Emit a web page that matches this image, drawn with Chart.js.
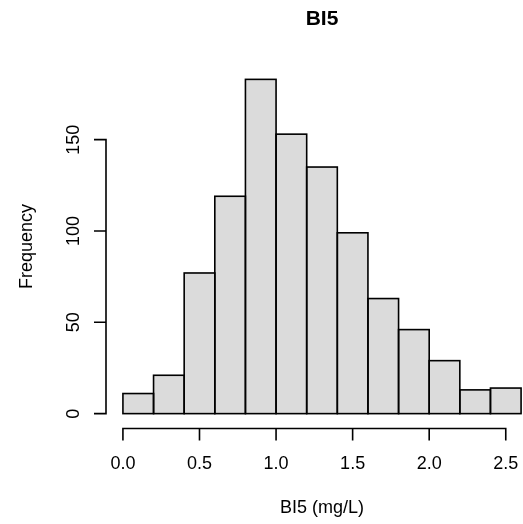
<!DOCTYPE html>
<html>
<head>
<meta charset="utf-8">
<script src="https://cdn.jsdelivr.net/npm/chart.js@4.4.1/dist/chart.umd.min.js"></script>
<style>
  html, body { margin: 0; padding: 0; background: #ffffff; overflow: hidden; }
  #wrap { width: 523px; height: 524px; overflow: hidden; position: relative; }
  #c { position: absolute; left: 0; top: 0; }
</style>
</head>
<body>
<div id="wrap"><canvas id="c" width="560" height="524"></canvas></div>
<script>
// ---- data ----
const breaks = [0.0, 0.2, 0.4, 0.6, 0.8, 1.0, 1.2, 1.4, 1.6, 1.8, 2.0, 2.2, 2.4, 2.6];
const counts = [11, 21, 77, 119, 183, 153, 135, 99, 63, 46, 29, 13, 14];
const xTicks = [0.0, 0.5, 1.0, 1.5, 2.0, 2.5];
const xTickLabels = ["0.0", "0.5", "1.0", "1.5", "2.0", "2.5"];
const yTicks = [0, 50, 100, 150];
const yTickLabels = ["0", "50", "100", "150"];
const titleText = "BI5";
const xLabel = "BI5 (mg/L)";
const yLabel = "Frequency";

const points = counts.map((c, i) => ({ x: (breaks[i] + breaks[i + 1]) / 2, y: c }));
const xMinB = breaks[0], xMaxB = breaks[breaks.length - 1];
const xPad = (xMaxB - xMinB) * 0.04;
const yMaxC = Math.max(...counts);
const yPad = yMaxC * 0.04;
const FONT = '"Liberation Sans", Arial, Helvetica, sans-serif';
const LW = 1.6;

const rAxes = {
  id: 'rAxes',
  afterDatasetsDraw(chart) {
    // outline bars like R's rect(), lines centred on bar edges
    const ctx = chart.ctx;
    const meta = chart.getDatasetMeta(0);
    ctx.save();
    ctx.strokeStyle = '#000';
    ctx.lineWidth = LW;
    ctx.lineJoin = 'miter';
    meta.data.forEach(bar => {
      const p = bar.getProps(['x', 'y', 'base', 'width'], true);
      const l = p.x - p.width / 2, r = p.x + p.width / 2;
      ctx.strokeRect(l, p.y, r - l, p.base - p.y);
    });
    ctx.restore();
  },
  afterDraw(chart) {
    const ctx = chart.ctx;
    const xs = chart.scales.x, ys = chart.scales.y;
    const area = chart.chartArea;
    ctx.save();
    ctx.strokeStyle = '#000';
    ctx.fillStyle = '#000';
    ctx.lineWidth = LW;
    ctx.lineCap = 'butt';
    // x axis
    const ax = area.bottom + 1.5;
    ctx.beginPath();
    ctx.moveTo(xs.getPixelForValue(xTicks[0]) - LW / 2, ax);
    ctx.lineTo(xs.getPixelForValue(xTicks[xTicks.length - 1]) + LW / 2, ax);
    xTicks.forEach(t => {
      const px = xs.getPixelForValue(t);
      ctx.moveTo(px, ax);
      ctx.lineTo(px, ax + 12);
    });
    ctx.stroke();
    ctx.font = '18px ' + FONT;
    ctx.textAlign = 'center';
    ctx.textBaseline = 'middle';
    xTicks.forEach((t, i) => {
      ctx.fillText(xTickLabels[i], xs.getPixelForValue(t), 464);
    });
    // y axis
    const ay = area.left - 1;
    ctx.beginPath();
    ctx.moveTo(ay, ys.getPixelForValue(yTicks[0]) + LW / 2);
    ctx.lineTo(ay, ys.getPixelForValue(yTicks[yTicks.length - 1]) - LW / 2);
    yTicks.forEach(t => {
      const py = ys.getPixelForValue(t);
      ctx.moveTo(ay, py);
      ctx.lineTo(ay - 12, py);
    });
    ctx.stroke();
    yTicks.forEach((t, i) => {
      ctx.save();
      ctx.translate(74, ys.getPixelForValue(t));
      ctx.rotate(-Math.PI / 2);
      ctx.fillText(yTickLabels[i], 0, 0);
      ctx.restore();
    });
    // axis titles
    const cx = (area.left + area.right) / 2;
    const cy = (area.top + area.bottom) / 2;
    ctx.fillText(xLabel, cx, 508);
    ctx.save();
    ctx.translate(27, cy);
    ctx.rotate(-Math.PI / 2);
    ctx.fillText(yLabel, 0, 0);
    ctx.restore();
    // main title
    ctx.font = 'bold 21px ' + FONT;
    ctx.fillText(titleText, cx, 19);
    ctx.restore();
  }
};

new Chart(document.getElementById('c'), {
  type: 'bar',
  data: {
    datasets: [{
      data: points,
      backgroundColor: '#DBDBDB',
      borderWidth: 0,
      barPercentage: 1.0,
      categoryPercentage: 1.0
    }]
  },
  options: {
    responsive: false,
    animation: false,
    devicePixelRatio: 1,
    layout: { padding: { left: 107, right: 23, top: 66, bottom: 97 } },
    plugins: { legend: { display: false }, tooltip: { enabled: false }, title: { display: false } },
    scales: {
      x: { type: 'linear', display: false, offset: false, min: xMinB - xPad, max: xMaxB + xPad },
      y: { type: 'linear', display: false, min: -yPad, max: yMaxC + yPad }
    }
  },
  plugins: [rAxes]
});
</script>
</body>
</html>
